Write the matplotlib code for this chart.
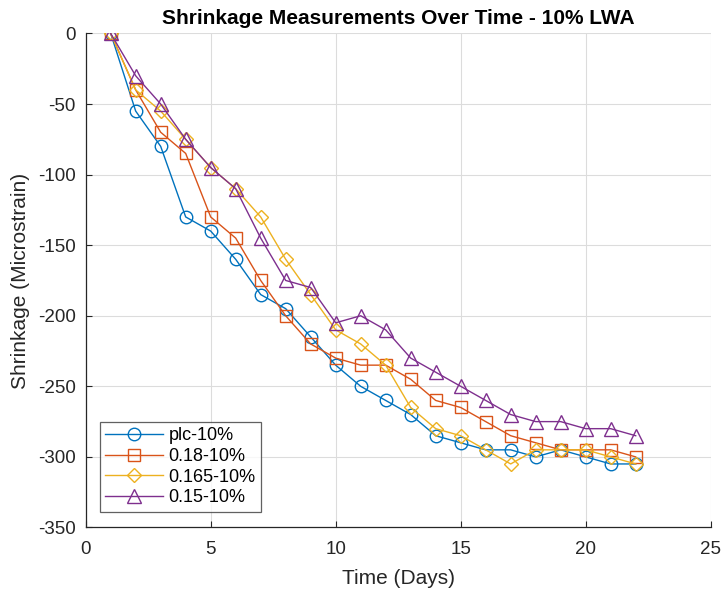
import matplotlib
matplotlib.use("Agg")
import matplotlib.pyplot as plt

days = list(range(1, 23))
plc_10 = [0, -55, -80, -130, -140, -160, -185, -195, -215, -235, -250, -260, -270, -285, -290, -295, -295, -300, -295, -300, -305, -305]
s018_10 = [0, -40, -70, -85, -130, -145, -175, -200, -220, -230, -235, -235, -245, -260, -265, -275, -285, -290, -295, -295, -295, -300]
s0165_10 = [0, -40, -55, -75, -95, -110, -130, -160, -185, -210, -220, -235, -265, -280, -285, -295, -305, -295, -295, -295, -300, -305]
s015_10 = [0, -30, -50, -75, -95, -110, -145, -175, -180, -205, -200, -210, -230, -240, -250, -260, -270, -275, -275, -280, -280, -285]
labels = ["plc-10%", "0.18-10%", "0.165-10%", "0.15-10%"]
colors = ["#0072BD", "#D95319", "#EDB120", "#7E2F8E"]
markers = ["o", "s", "D", "^"]

plt.rcParams['font.family'] = ['Liberation Sans', 'DejaVu Sans']
plt.rcParams['axes.unicode_minus'] = False

fig = plt.figure(figsize=(7.23, 5.92), dpi=100)
ax = fig.add_axes([0.1185, 0.109, 0.8645, 0.8345])

series = [plc_10, s018_10, s0165_10, s015_10]
sizes = {"o": 9, "s": 9, "D": 7.5, "^": 10}
for y, lab, c, m in zip(series, labels, colors, markers):
    ax.plot(days, y, color=c, marker=m, markerfacecolor='none', markeredgecolor=c,
            markersize=sizes[m], linewidth=1.0, markeredgewidth=1.0, label=lab)

ax.set_xlim(0, 25)
ax.set_ylim(-350, 0)
ax.set_xticks([0, 5, 10, 15, 20, 25])
ax.set_yticks(list(range(-350, 1, 50)))
ax.grid(True, color='#dcdcdc', linewidth=0.8)
ax.set_axisbelow(True)
ax.tick_params(direction='in', labelsize=13.5, colors='#262626', length=4.5)
ax.tick_params(axis='x', pad=10)
ax.tick_params(axis='y', pad=7)
ax.spines['top'].set_visible(False)
ax.spines['right'].set_visible(False)
for sp in ['left', 'bottom']:
    ax.spines[sp].set_color('#262626')
    ax.spines[sp].set_linewidth(0.9)

ax.set_xlabel("Time (Days)", fontsize=15, color='#262626', labelpad=8)
ax.set_ylabel("Shrinkage (Microstrain)", fontsize=15, color='#262626', labelpad=6)
ax.set_title("Shrinkage Measurements Over Time - 10% LWA", fontsize=15, fontweight='bold', pad=7)

leg = ax.legend(loc='lower left', bbox_to_anchor=(0.023, 0.032), fontsize=13, frameon=True,
                fancybox=False, edgecolor='#3a3a3a', handlelength=3.2, borderpad=0.3,
                labelspacing=0.2, handletextpad=0.3, borderaxespad=0)
leg.get_frame().set_linewidth(0.9)

fig.savefig("out.png", dpi=100)
